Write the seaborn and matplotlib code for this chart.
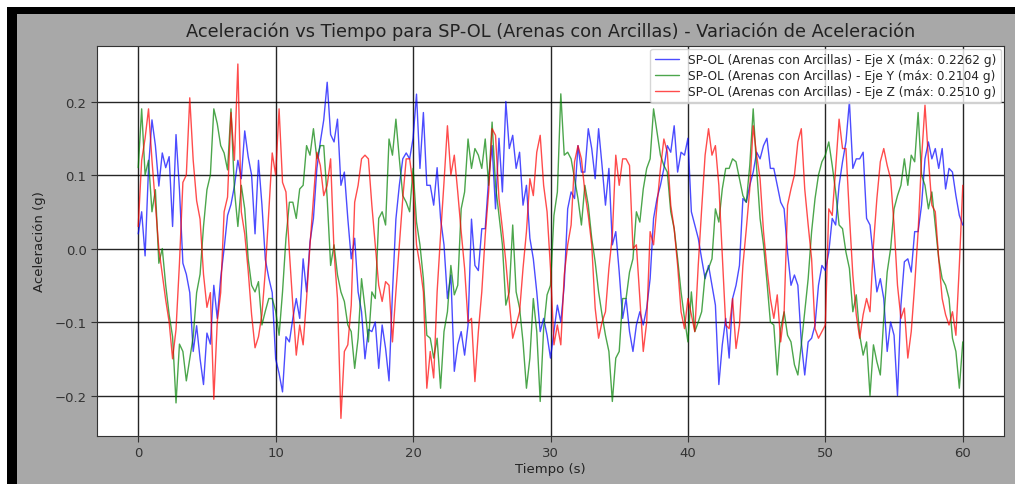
import numpy as np
import pandas as pd
import matplotlib
matplotlib.use("Agg")
import matplotlib.pyplot as plt
import seaborn as sns
from matplotlib.patches import Rectangle

# ---- data (sampled every 0.25 s from 0 to 60 s) ----
eje_x = [
    0.02, 0.05, -0.01, 0.11, 0.175, 0.14, 0.085, 0.13, 0.11, 0.125, 0.03, 0.155, 0.08, -0.02, -0.035, -0.06, -0.14, -0.105, -0.15, -0.185,
    -0.115, -0.13, -0.05, -0.095, -0.04, 0.0, 0.045, 0.06, 0.085, 0.12, 0.095, 0.16, 0.125, 0.10, 0.02, 0.12, 0.06, -0.015, -0.04, -0.06,
    -0.15, -0.17, -0.195, -0.12, -0.127, -0.095, -0.068, -0.095, -0.014, -0.059, 0.009, 0.041, 0.109, 0.145, 0.175, 0.2262, 0.155, 0.145, 0.176, 0.086,
    0.104, 0.041, -0.014, 0.014, -0.059, -0.086, -0.15, -0.11, -0.113, -0.1, -0.163, -0.104, -0.136, -0.18, -0.06, 0.04, 0.086, 0.122, 0.13, 0.122,
    0.15, 0.21, 0.109, 0.185, 0.086, 0.086, 0.059, 0.11, 0.041, 0.005, -0.068, -0.036, -0.167, -0.131, -0.113, -0.145, -0.104, 0.04, -0.023, -0.03,
    0.027, 0.027, 0.095, 0.14, 0.054, 0.15, 0.077, 0.2, 0.136, 0.154, 0.109, 0.131, 0.059, 0.086, 0.014, -0.014, -0.059, -0.113, -0.095, -0.118,
    -0.149, -0.113, -0.077, -0.1, -0.05, 0.054, 0.077, 0.068, 0.14, 0.104, 0.104, 0.163, 0.136, 0.095, 0.163, 0.113, 0.059, 0.109, 0.005, 0.023,
    -0.032, -0.095, -0.068, -0.113, -0.14, -0.104, -0.086, -0.104, -0.081, -0.041, 0.041, 0.068, 0.086, 0.109, 0.14, 0.131, 0.167, 0.104, 0.131, 0.127,
    0.15, 0.05, 0.032, 0.014, -0.014, -0.041, -0.023, -0.05, -0.077, -0.185, -0.131, -0.095, -0.149, -0.068, -0.05, -0.023, 0.068, 0.063, 0.086, 0.104,
    0.131, 0.122, 0.14, 0.15, 0.109, 0.109, 0.086, 0.063, 0.054, -0.005, -0.05, -0.036, -0.05, -0.127, -0.172, -0.127, -0.122, -0.104, -0.05, -0.023,
    -0.03, -0.005, 0.041, 0.032, 0.086, 0.118, 0.145, 0.2, 0.109, 0.122, 0.122, 0.131, 0.041, 0.032, -0.014, -0.059, -0.041, -0.068, -0.14, -0.1,
    -0.118, -0.2, -0.077, -0.018, -0.014, -0.032, 0.023, 0.023, 0.059, 0.122, 0.145, 0.122, 0.136, 0.109, 0.136, 0.081, 0.109, 0.104, 0.072, 0.045,
    0.032,
]

eje_y = [
    0.11, 0.19, 0.10, 0.12, 0.05, 0.08, -0.02, 0.0, -0.05, -0.09, -0.12, -0.21, -0.13, -0.14, -0.18, -0.15, -0.12, -0.06, -0.035, 0.03,
    0.08, 0.10, 0.19, 0.17, 0.14, 0.13, 0.107, 0.19, 0.08, 0.03, 0.086, 0.054, -0.014, -0.05, -0.059, -0.045, -0.104, -0.085, -0.068, -0.068,
    -0.085, -0.118, -0.059, 0.014, 0.063, 0.063, 0.041, 0.081, 0.086, 0.14, 0.127, 0.163, 0.122, 0.14, 0.14, 0.068, -0.023, 0.005, -0.036, -0.059,
    -0.072, -0.104, -0.113, -0.163, -0.122, -0.041, -0.081, -0.127, -0.059, -0.068, 0.041, 0.05, 0.032, 0.149, 0.127, 0.176, 0.122, 0.072, 0.063, 0.05,
    0.109, 0.036, 0.005, -0.041, -0.118, -0.122, -0.149, -0.122, -0.19, -0.113, -0.086, -0.023, -0.063, -0.05, 0.054, 0.077, 0.149, 0.109, 0.136, 0.127,
    0.109, 0.149, 0.086, 0.172, 0.086, 0.045, 0.005, -0.077, -0.059, 0.032, -0.059, -0.081, -0.127, -0.19, -0.149, -0.068, -0.113, -0.208, -0.109, -0.063,
    -0.05, 0.045, 0.077, 0.2104, 0.127, 0.131, 0.122, 0.095, 0.068, 0.032, 0.086, 0.059, 0.014, -0.018, -0.059, -0.09, -0.118, -0.14, -0.208, -0.149,
    -0.14, -0.068, -0.068, -0.032, -0.014, 0.05, 0.036, 0.081, 0.109, 0.122, 0.19, 0.158, 0.127, 0.113, 0.104, 0.05, 0.027, -0.014, -0.059, -0.095,
    -0.127, -0.059, -0.113, -0.1, -0.086, -0.036, -0.027, -0.014, 0.054, 0.036, 0.081, 0.109, 0.109, 0.122, 0.118, 0.095, 0.072, 0.063, 0.113, 0.19,
    0.109, 0.041, 0.005, -0.045, -0.1, -0.104, -0.172, -0.109, -0.086, -0.118, -0.127, -0.158, -0.172, -0.131, -0.086, -0.041, 0.023, 0.068, 0.1, 0.118,
    0.127, 0.145, 0.113, 0.077, 0.032, 0.027, -0.005, -0.027, -0.086, -0.063, -0.118, -0.145, -0.127, -0.2, -0.131, -0.154, -0.172, -0.095, -0.032, 0.0,
    0.054, 0.072, 0.086, 0.122, 0.086, 0.127, 0.118, 0.185, 0.1, 0.086, 0.054, 0.077, 0.032, -0.014, -0.041, -0.05, -0.068, -0.122, -0.14, -0.19,
    -0.127,
]

eje_z = [
    0.03, 0.12, 0.15, 0.19, 0.12, 0.06, 0.0, -0.035, -0.07, -0.1, -0.15, -0.11, -0.02, 0.09, 0.1, 0.205, 0.12, 0.065, 0.04, -0.035,
    -0.08, -0.06, -0.205, -0.1, -0.06, 0.05, 0.07, 0.185, 0.12, 0.251, 0.05, 0.02, -0.03, -0.09, -0.135, -0.12, -0.09, -0.03, 0.05, 0.13,
    0.1, 0.19, 0.09, 0.077, -0.005, -0.077, -0.145, -0.104, -0.131, -0.068, 0.005, 0.068, 0.131, 0.113, 0.072, 0.086, 0.122, -0.005, -0.068, -0.231,
    -0.14, -0.131, -0.077, 0.063, 0.086, 0.122, 0.127, 0.122, 0.059, 0.005, -0.05, -0.072, -0.045, -0.05, -0.127, -0.059, 0.005, 0.068, 0.122, 0.122,
    0.086, 0.005, -0.023, -0.059, -0.19, -0.14, -0.176, -0.059, 0.018, 0.09, 0.167, 0.1, 0.127, 0.077, 0.023, -0.027, -0.1, -0.095, -0.181, -0.113,
    -0.059, 0.018, 0.077, 0.163, 0.154, 0.068, 0.027, -0.018, -0.072, -0.122, -0.104, -0.086, -0.027, 0.023, 0.095, 0.072, 0.131, 0.154, 0.086, 0.05,
    -0.027, -0.131, -0.104, -0.131, -0.036, 0.005, 0.032, 0.118, 0.14, 0.122, 0.077, 0.045, 0.005, -0.081, -0.122, -0.1, -0.086, -0.027, 0.018, 0.127,
    0.086, 0.122, 0.122, 0.113, 0.0, 0.005, -0.068, -0.14, -0.1, 0.023, 0.005, 0.059, 0.109, 0.149, 0.131, 0.059, 0.027, -0.023, -0.086, -0.109,
    -0.068, -0.09, -0.113, -0.023, 0.054, 0.127, 0.163, 0.127, 0.14, 0.086, -0.009, -0.104, -0.109, -0.068, -0.136, -0.104, -0.023, 0.027, 0.081, 0.167,
    0.127, 0.095, 0.023, -0.027, -0.068, -0.095, -0.063, -0.127, -0.086, 0.059, 0.081, 0.1, 0.145, 0.163, 0.081, 0.032, -0.014, -0.109, -0.122, -0.113,
    -0.104, 0.054, 0.045, 0.109, 0.176, 0.136, 0.136, 0.045, -0.036, -0.09, -0.122, -0.09, -0.068, -0.086, 0.005, 0.068, 0.118, 0.136, 0.113, 0.095,
    0.032, -0.05, -0.095, -0.081, -0.149, -0.113, -0.05, 0.023, 0.122, 0.195, 0.122, 0.059, 0.05, -0.014, -0.068, -0.09, -0.104, -0.086, -0.118, -0.023,
    0.086,
]

duracion_s = 60.0
etiquetas = [
    "SP-OL (Arenas con Arcillas) - Eje X (máx: 0.2262 g)",
    "SP-OL (Arenas con Arcillas) - Eje Y (máx: 0.2104 g)",
    "SP-OL (Arenas con Arcillas) - Eje Z (máx: 0.2510 g)",
]
colores = ["blue", "green", "red"]

# ---- figure ----
sns.set_style("white")
plt.rcParams["font.family"] = ["DejaVu Sans"]

fig = plt.figure(figsize=(10.15, 4.85), dpi=100)
fig.patch.set_facecolor("white")
# gray panel + black frame (screenshot look)
fig.patches.append(Rectangle((7 / 1015, 0), 1 - 7 / 1015, 1 - 8 / 485, transform=fig.transFigure,
                             facecolor="black", edgecolor="none", zorder=-3))
fig.patches.append(Rectangle((17 / 1015, 0), 1 - 17 / 1015, 1 - 15 / 485, transform=fig.transFigure,
                             facecolor="#a8a8a8", edgecolor="none", zorder=-2))

ax = fig.add_axes([97 / 1015, 1 - 437 / 485, (1004 - 97) / 1015, (437 - 47) / 485])
ax.set_facecolor("white")

for serie, lab, col in zip([eje_x, eje_y, eje_z], etiquetas, colores):
    t = np.linspace(0, duracion_s, len(serie))
    df = pd.DataFrame({"Tiempo": t, "Acc": serie})
    sns.lineplot(data=df, x="Tiempo", y="Acc", ax=ax, color=col, alpha=0.7,
                 linewidth=1.0, label=lab, estimator=None, sort=False)

ax.set_xlim(-3, 63)
ax.set_ylim(-0.255, 0.2755)
ax.set_xticks([0, 10, 20, 30, 40, 50, 60])
ax.set_yticks([-0.2, -0.1, 0.0, 0.1, 0.2])
ax.grid(True, color="black", linewidth=1.0, alpha=0.85)
ax.tick_params(axis="both", direction="out", length=4, width=0.8, colors="#333333",
               labelsize=9.5, bottom=True, left=True)
for s in ax.spines.values():
    s.set_color("#333333")
    s.set_linewidth(0.8)

ax.set_title("Aceleración vs Tiempo para SP-OL (Arenas con Arcillas) - Variación de Aceleración",
             fontsize=12.8, color="#222222", pad=7)
ax.set_xlabel("Tiempo (s)", fontsize=9.5, color="#222222", labelpad=2)
ax.set_ylabel("Aceleración (g)", fontsize=9.5, color="#222222", labelpad=6)

leg = ax.legend(loc="upper right", fontsize=8.7, frameon=True, framealpha=0.8,
                borderaxespad=0.25, handlelength=2.0, labelspacing=0.25, borderpad=0.35)
leg.get_frame().set_edgecolor("#cccccc")
for h in leg.get_lines():
    h.set_linewidth(1.0)

fig.savefig("out.png", dpi=100, facecolor=fig.get_facecolor())
